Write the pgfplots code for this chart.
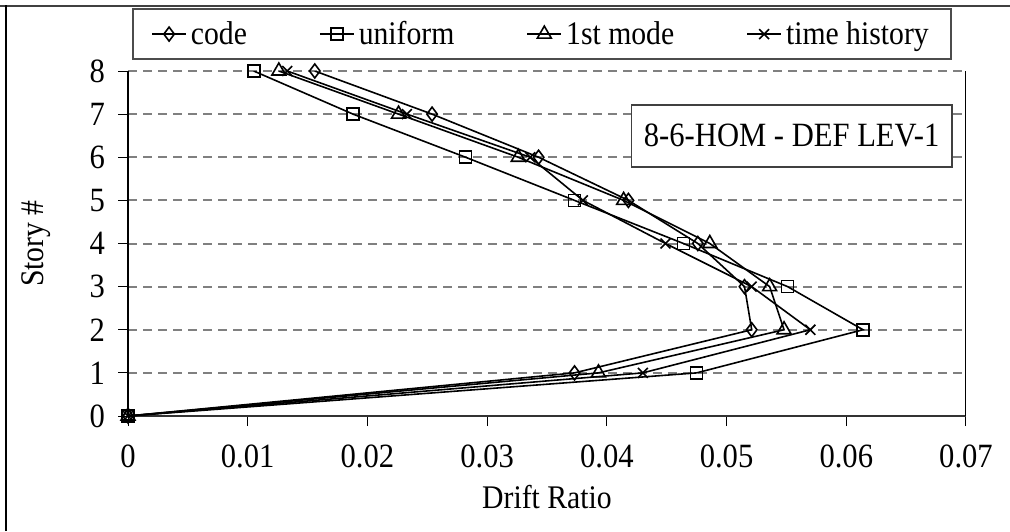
\documentclass[border=0pt]{standalone}
\usepackage{fontspec}
\setmainfont{Liberation Serif}[FakeStretch=0.9]
\usepackage{pgfplots}
\pgfplotsset{compat=1.18}
\begin{document}
\begin{tikzpicture}
\path[use as bounding box] (0,0) rectangle (505pt,265.5pt);
\draw[line width=1pt, black!75] (0,262.5pt) -- (505pt,262.5pt);
\draw[line width=0.6pt, black] (3pt,0) -- (3pt,263pt);
\begin{axis}[
  at={(64pt,57.5pt)}, anchor=south west,
  width=419pt, height=172.5pt, scale only axis,
  xmin=0, xmax=0.07, ymin=0, ymax=8,
  axis x line*=bottom, axis y line*=left,
  x axis line style={line width=0.9pt, black!80},
  y axis line style={line width=0.6pt, black},
  xtick={0,0.01,0.02,0.03,0.04,0.05,0.06,0.07},
  xticklabels={0,0.01,0.02,0.03,0.04,0.05,0.06,0.07},
  scaled x ticks=false,
  ytick={0,1,2,3,4,5,6,7,8},
  tick align=outside, major tick length=5pt,
  tick style={black, line width=0.5pt},
  ymajorgrids,
  grid style={black!50, line width=1pt, dash pattern=on 4.5pt off 3pt},
  tick label style={font=\fontsize{17}{19}\selectfont},
  /pgf/number format/assume math mode=true,
  xticklabel style={yshift=-6pt},
  yticklabel style={xshift=-3pt},
  xlabel={Drift Ratio},
  ylabel={Story \#},
  label style={font=\fontsize{16.5}{19}\selectfont},
  xlabel style={at={(axis description cs:0.5,-0.235)}, anchor=center},
  ylabel style={at={(axis description cs:-0.11,0.5)}, anchor=center},
  legend columns=4,
  legend cell align=left,
  legend style={at={(axis description cs:0.494,1.107)}, anchor=center,
    draw=black!70, line width=0.8pt, font=\fontsize{16.5}{19}\selectfont,
    inner xsep=9pt, inner ysep=4pt,
    /tikz/every even column/.append style={column sep=34pt}},
  every axis plot/.append style={black, line width=0.8pt},
]
\addplot[mark=diamond, mark size=3.5pt, mark options={fill=white, solid, line width=0.8pt}] coordinates {
(0,0) (0.0373,1) (0.0521,2) (0.0515,3) (0.0476,4) (0.0418,5) (0.0343,6) (0.0254,7) (0.0156,8)};
\addlegendentry{code}
\addplot[mark=square, mark size=3pt, mark options={fill=white, solid, line width=0.8pt}] coordinates {
(0,0) (0.0475,1) (0.0614,2) (0.0551,3) (0.0464,4) (0.0373,5) (0.0282,6) (0.0188,7) (0.0105,8)};
\addlegendentry{uniform}
\addplot[mark=triangle, mark size=4pt, mark options={fill=white, solid, line width=0.8pt}] coordinates {
(0,0) (0.0393,1) (0.0548,2) (0.0536,3) (0.0486,4) (0.0414,5) (0.0326,6) (0.0226,7) (0.0126,8)};
\addlegendentry{1st mode}
\addplot[mark=x, mark size=3.5pt, mark options={solid, line width=0.8pt}] coordinates {
(0,0) (0.0430,1) (0.0570,2) (0.0521,3) (0.0449,4) (0.0380,5) (0.0336,6) (0.0233,7) (0.0133,8)};
\addlegendentry{time history}
\draw[black, line width=0.6pt] (rel axis cs:1,0) -- (rel axis cs:1,1);
\node[draw=black!75, line width=0.8pt, fill=white, minimum width=160pt, minimum height=31pt,
  font=\fontsize{17}{19}\selectfont, inner sep=2pt] at (axis description cs:0.792,0.812) {8-6-HOM - DEF LEV-1};
\end{axis}
\end{tikzpicture}
\end{document}
